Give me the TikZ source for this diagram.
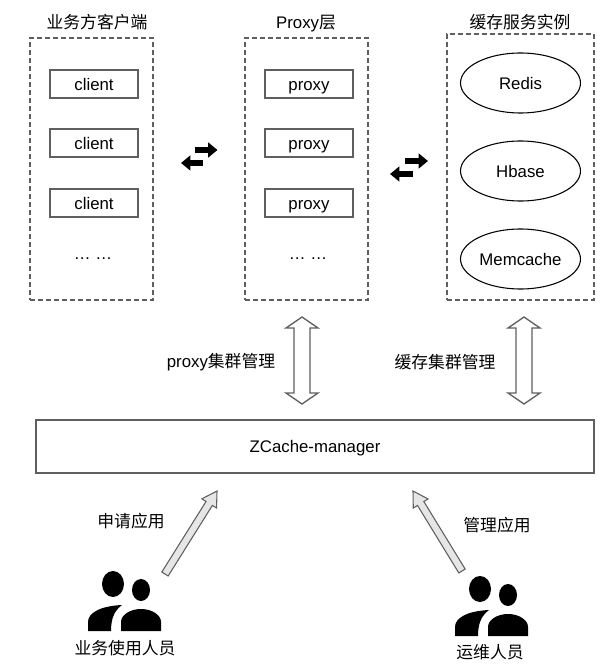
\documentclass[tikz,border=0pt]{standalone}
\usepackage{fontspec}
\setmainfont{Liberation Sans}
\newfontfamily\cjk{Noto Sans CJK SC}
\usetikzlibrary{calc,arrows.meta,shapes.geometric}

\definecolor{linegray}{HTML}{5F5F5F}
\definecolor{arrowfill}{HTML}{E6E6E6}

\tikzset{
  every node/.style={font=\fontsize{12.6pt}{15pt}\selectfont,inner sep=0.75pt,text=black},
  groupbox/.style={draw=linegray,line width=1pt,dash pattern=on 3.6pt off 2.4pt,minimum width=92.25pt,minimum height=196.5pt},
  itembox/.style={draw=linegray,line width=1pt,minimum width=66pt,minimum height=21pt,text height=11pt,text depth=1.7pt},
  cacheshape/.style={draw=black,line width=0.8pt,ellipse,minimum width=90pt,minimum height=45pt},
  swaparrow/.style={line width=3.8pt,-{Triangle[length=7pt,width=11pt]}},
  hollowarrow/.style={draw=linegray,fill=white,line width=1pt,to path={
    (\tikztostart)
    -- ($(\tikztostart)!8.25pt!(\tikztotarget)!12pt!90:(\tikztotarget)$)
    -- ($(\tikztostart)!8.25pt!(\tikztotarget)!6pt!90:(\tikztotarget)$)
    -- ($(\tikztotarget)!8.25pt!(\tikztostart)!6pt!-90:(\tikztostart)$)
    -- ($(\tikztotarget)!8.25pt!(\tikztostart)!12pt!-90:(\tikztostart)$)
    -- (\tikztotarget)
    -- ($(\tikztotarget)!8.25pt!(\tikztostart)!12pt!90:(\tikztostart)$)
    -- ($(\tikztotarget)!8.25pt!(\tikztostart)!6pt!90:(\tikztostart)$)
    -- ($(\tikztostart)!8.25pt!(\tikztotarget)!6pt!-90:(\tikztotarget)$)
    -- ($(\tikztostart)!8.25pt!(\tikztotarget)!12pt!-90:(\tikztotarget)$)
    -- cycle}},
  applyarrow/.style={draw=linegray,fill=arrowfill,line width=0.8pt,to path={
    ($(\tikztostart)!2.8pt!90:(\tikztotarget)$)
    -- ($(\tikztotarget)!11pt!(\tikztostart)!2.8pt!-90:(\tikztostart)$)
    -- ($(\tikztotarget)!11pt!(\tikztostart)!6.5pt!-90:(\tikztostart)$)
    -- (\tikztotarget)
    -- ($(\tikztotarget)!11pt!(\tikztostart)!6.5pt!90:(\tikztostart)$)
    -- ($(\tikztotarget)!11pt!(\tikztostart)!2.8pt!90:(\tikztostart)$)
    -- ($(\tikztostart)!2.8pt!-90:(\tikztotarget)$)
    -- cycle}},
  pics/userpair/.style={code={
    \fill (25,47) ellipse [x radius=11,y radius=13];
    \fill (53,41) ellipse [x radius=9,y radius=11];
    \fill (0,0) -- (0,9) .. controls (0,18) and (12,25) .. (34,26) .. controls (26,20) and (23,12) .. (23,0) -- cycle;
    \fill (33,0) -- (33,9) .. controls (33,16) and (42,22) .. (53,22) .. controls (64,22) and (73,16) .. (73,9) -- (73,0) -- cycle;
  }}
}

\begin{document}
\begin{tikzpicture}[x=0.75pt,y=0.75pt,yscale=-1,xscale=1]
\useasboundingbox (0,0) rectangle (616,666);

% Titles
\node (clienttitle) at (97,22) {\cjk 业务方客户端};
\node [text depth=0pt] (proxytitle) at (306,22) {Proxy{\cjk 层}};
\node (cachetitle) at (520,22) {\cjk 缓存服务实例};

% Dashed groups
\node [groupbox] (clientgroup) at (91.5,169) {};
\node [groupbox] (proxygroup) at (306.5,169) {};
\node [groupbox,minimum width=110.25pt,minimum height=199.5pt] (cachegroup) at (520.5,167) {};

% Clients and proxies
\foreach \row/\ypos in {a/84,b/143,c/203} {
  \node [itembox] (client\row) at (94,\ypos) {client};
  \node [itembox] (proxy\row) at (309,\ypos) {proxy};
}
\node (clientdots) at (93,259) {… …};
\node (proxydots) at (308,259) {… …};

% Cache instances
\node [cacheshape] (redis) at (520.5,83) {Redis};
\node [cacheshape] (hbase) at (520.5,171) {Hbase};
\node [cacheshape] (memcache) at (520.5,259) {Memcache};

% Swap arrows
\coordinate (swapa1) at (195,150);
\coordinate (swapa2) at (217.5,150);
\coordinate (swapb1) at (203,163);
\coordinate (swapb2) at (181,163);
\draw [swaparrow] (swapa1) -- (swapa2);
\draw [swaparrow] (swapb1) -- (swapb2);
\coordinate (swapc1) at (405,161);
\coordinate (swapc2) at (428,161);
\coordinate (swapd1) at (413,174);
\coordinate (swapd2) at (390,174);
\draw [swaparrow] (swapc1) -- (swapc2);
\draw [swaparrow] (swapd1) -- (swapd2);

% Manager
\node [draw=linegray,line width=1pt,minimum width=418.5pt,minimum height=39.75pt,text height=11pt,text depth=1.7pt] (manager) at (315,446.5) {ZCache-manager};

% Hollow arrows
\coordinate (proxytop) at (302,317);
\coordinate (proxybottom) at (302,404);
\coordinate (cachetop) at (524,317);
\coordinate (cachebottom) at (524,404);
\draw [hollowarrow] (proxytop) to (proxybottom);
\draw [hollowarrow] (cachetop) to (cachebottom);
\node (proxylabel) at (221,362) {proxy{\cjk 集群管理}};
\node (cachelabel) at (445,362) {\cjk 缓存集群管理};

% People
\pic (usersleft) at (88,631) {userpair};
\pic (usersright) at (455,636) {userpair};
\node (userslabel) at (125,648) {\cjk 业务使用人员};
\node (opslabel) at (490,652) {\cjk 运维人员};

% Arrows to manager
\coordinate (applytail) at (165,574);
\coordinate (applytip) at (217,491);
\coordinate (admintail) at (462,571);
\coordinate (admintip) at (413,491);
\draw [applyarrow] (applytail) to (applytip);
\draw [applyarrow] (admintail) to (admintip);
\node (applylabel) at (131,521) {\cjk 申请应用};
\node (adminlabel) at (497,525) {\cjk 管理应用};
\end{tikzpicture}
\end{document}
